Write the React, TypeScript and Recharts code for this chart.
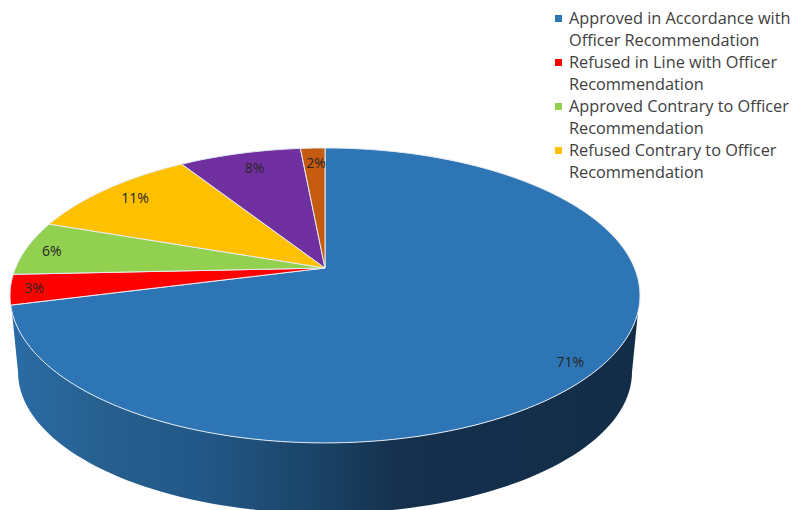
import React from "react";
import { PieChart, Pie, Legend } from "recharts";

const categories = [
  "Approved in Accordance with Officer Recommendation",
  "Refused in Line with Officer Recommendation",
  "Approved Contrary to Officer Recommendation",
  "Refused Contrary to Officer Recommendation",
  "",
  "",
];
const shares = [71.0, 3.3, 6.0, 10.7, 7.5, 1.5];
const colors = ["#2E75B6", "#FF0000", "#92D050", "#FFC000", "#7030A0", "#C55A11"];

const data = categories.map((name, i) => ({ name, value: shares[i], fill: colors[i] }));

const FONT = '"Open Sans", sans-serif';
// the tilted disc: squash of the y axis and strength of the perspective
const SQUASH = 0.46;
const PERSPECTIVE = 0.186;
// hand nudges for the percent labels, same order as the slices
const LABEL_NUDGE = [
  [6, 8],
  [-15, 1],
  [-10, 0],
  [4, 0],
  [6, 2],
  [2, 2],
];

// clockwise degrees from 12 o'clock, r in 0..1 of the radius -> screen point
function project(cx: number, cy: number, radius: number, deg: number, r = 1) {
  const rad = (deg * Math.PI) / 180;
  const u = r * Math.sin(rad);
  const v = -r * Math.cos(rad);
  const w = 1 - PERSPECTIVE * v;
  return { x: cx + (radius * u) / w, y: cy + (radius * SQUASH * v) / w };
}

function TiltedSector(props: any) {
  const { cx, cy, outerRadius, startAngle, endAngle, fill } = props;
  const from = 90 - startAngle;
  const to = 90 - endAngle;
  const steps = Math.max(2, Math.ceil(to - from));
  let d = `M${cx},${cy}`;
  for (let i = 0; i <= steps; i++) {
    const p = project(cx, cy, outerRadius, from + ((to - from) * i) / steps);
    d += `L${p.x.toFixed(2)},${p.y.toFixed(2)}`;
  }
  return <path d={d + "Z"} fill={fill} stroke="#E6ECF2" strokeWidth={1} strokeLinejoin="round" />;
}

function renderLabel(props: any) {
  const { cx, cy, outerRadius, midAngle, value, index } = props;
  const p = project(cx, cy, outerRadius, 90 - midAngle, 0.88);
  const [dx, dy] = LABEL_NUDGE[index];
  return (
    <text
      x={p.x + dx}
      y={p.y + dy}
      textAnchor="middle"
      dominantBaseline="central"
      fontFamily={FONT}
      fontSize={14}
      fill="#262626"
    >
      {Math.round(value)}%
    </text>
  );
}

// side of the disc, only the front part of it shows
function Wall() {
  const cx = 325;
  const cy = 268;
  const radius = 309.5;
  const parts: string[] = [];
  for (let deg = 107; deg <= 253; deg += 2) {
    const p = project(cx, cy, radius, deg);
    parts.push(`${p.x.toFixed(2)},${p.y.toFixed(2)}`);
  }
  for (let a = 180; a >= 0; a -= 2) {
    const rad = (a * Math.PI) / 180;
    parts.push(`${(325 + 307 * Math.cos(rad)).toFixed(2)},${(372 + 141.5 * Math.sin(rad)).toFixed(2)}`);
  }
  return (
    <g>
      <defs>
        <linearGradient id="wallFill" gradientUnits="userSpaceOnUse" x1="12" y1="0" x2="638" y2="0">
          <stop offset="0" stopColor="#2B6CA6" />
          <stop offset="0.14" stopColor="#26608F" />
          <stop offset="0.3" stopColor="#225888" />
          <stop offset="0.48" stopColor="#1B4468" />
          <stop offset="0.62" stopColor="#14304D" />
          <stop offset="1" stopColor="#132D48" />
        </linearGradient>
      </defs>
      <polygon points={parts.join(" ")} fill="url(#wallFill)" />
    </g>
  );
}

function LegendBox(props: any) {
  const items = (props.payload || []).filter((p: any) => p.value);
  return (
    <div style={{ fontFamily: FONT, fontSize: 16.3, lineHeight: "22px", color: "#404040" }}>
      {items.map((p: any) => (
        <div key={p.value} style={{ position: "relative", paddingLeft: 16 }}>
          <span
            style={{
              position: "absolute",
              left: 2,
              top: 8,
              width: 7,
              height: 7,
              background: p.color,
            }}
          />
          {p.value}
        </div>
      ))}
    </div>
  );
}

export default function App() {
  return (
    <div style={{ position: "absolute", left: 0, top: 0, width: 792, height: 510, overflow: "hidden" }}>
      <PieChart width={792} height={510} margin={{ top: 0, right: 0, bottom: 0, left: 0 }}>
        <Wall />
        <Pie
          data={data}
          dataKey="value"
          nameKey="name"
          cx={325}
          cy={268}
          outerRadius={309.5}
          startAngle={90}
          endAngle={-270}
          shape={TiltedSector}
          label={renderLabel}
          labelLine={false}
          isAnimationActive={false}
        />
        <Legend
          layout="vertical"
          align="right"
          verticalAlign="top"
          itemSorter={null}
          content={LegendBox}
          wrapperStyle={{ right: 0, top: 7, width: 239 }}
        />
      </PieChart>
    </div>
  );
}
